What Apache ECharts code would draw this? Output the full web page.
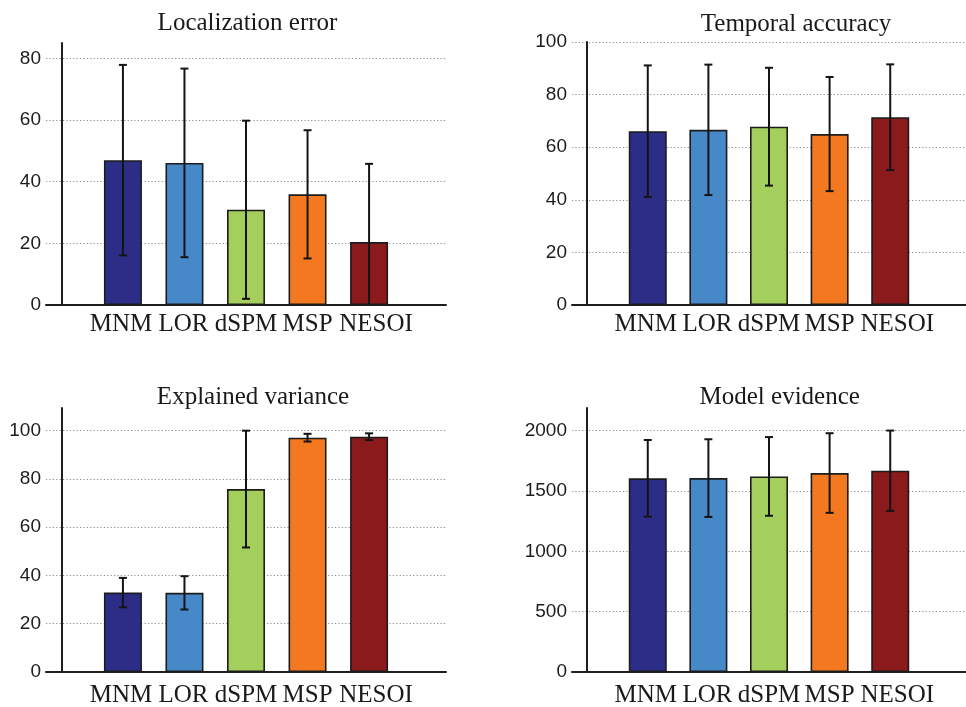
<!DOCTYPE html>
<html>
<head>
<meta charset="utf-8">
<script src="https://cdn.jsdelivr.net/npm/echarts@6/dist/echarts.min.js"></script>
<style>
  html, body { margin: 0; padding: 0; background: #ffffff; }
  #chart { width: 966px; height: 707px; }
</style>
</head>
<body>
<div id="chart"></div>
<script>
// Source-localisation methods compared in every panel
const methods = ['MNM', 'LOR', 'dSPM', 'MSP', 'NESOI'];
const methodColors = ['#2b2d86', '#4788c9', '#a4cf5c', '#f3781f', '#8a1a1b'];

// Group means and standard deviations per measure
const locErrMean = [47, 46.1, 30.9, 35.9, 20.4];
const locErrSd = [30.9, 30.6, 28.9, 20.8, 25.4];

const tempAccMean = [66.1, 66.6, 67.8, 65.0, 71.4];
const tempAccSd = [25.0, 24.8, 22.4, 21.7, 20.1];

const explVarMean = [32.9, 32.8, 75.8, 97.1, 97.5];
const explVarSd = [6.1, 6.9, 24.2, 1.6, 1.4];

const modelEvMean = [1605, 1607, 1621, 1649, 1668];
const modelEvSd = [318, 322, 326, 330, 333];

// Panel titles and y-axis tick ranges
const panelTitles = ['Localization error', 'Temporal accuracy', 'Explained variance', 'Model evidence'];
const yAxisMax = [85, 100, 109.4, 2188];
const yAxisStep = [20, 20, 20, 500];

const panelMeans = [locErrMean, tempAccMean, explVarMean, modelEvMean];
const panelSds = [locErrSd, tempAccSd, explVarSd, modelEvSd];

// Plot-area placement of each panel (px)
const gridBoxes = [
  { left: 46, top: 43, width: 400, height: 262 },
  { left: 572, top: 42, width: 399, height: 263 },
  { left: 46, top: 408, width: 400, height: 264 },
  { left: 572, top: 408, width: 399, height: 264 }
];
const titleAnchors = [
  { x: 247.5, y: 23.3 },
  { x: 796, y: 24.3 },
  { x: 253, y: 397.3 },
  { x: 779.7, y: 397.6 }
];
// Gap between the baseline axis and the method names, per panel
const nameGap = [7, 7, 11, 11];
// Small horizontal nudges so the names read as one evenly spaced row
const nameNudge = [-2, -1, 0, 0, 7];

const serif = "'Liberation Serif', 'Times New Roman', serif";
const sans = "'Liberation Sans', Arial, sans-serif";

const chart = echarts.init(document.getElementById('chart'), null, { renderer: 'canvas' });

const grids = [], xAxes = [], yAxes = [], series = [], graphics = [];

gridBoxes.forEach((box, i) => {
  grids.push(Object.assign({ containLabel: false }, box));

  xAxes.push({
    type: 'value',
    gridIndex: i,
    min: -0.25,
    max: 6.25,
    splitLine: { show: false },
    axisTick: { show: false },
    axisLabel: { show: false },
    axisLine: { show: true, lineStyle: { color: '#1e1e1e', width: 2 } }
  });

  const maxIsTick = Math.abs(yAxisMax[i] / yAxisStep[i] - Math.round(yAxisMax[i] / yAxisStep[i])) < 1e-9;
  yAxes.push({
    type: 'value',
    gridIndex: i,
    min: 0,
    max: yAxisMax[i],
    interval: yAxisStep[i],
    axisLine: { show: true, lineStyle: { color: '#1e1e1e', width: 2 } },
    axisTick: { show: false },
    axisLabel: {
      fontFamily: sans,
      fontSize: 19,
      color: '#1c1c1c',
      margin: 5,
      showMaxLabel: maxIsTick,
      formatter: v => String(v)
    },
    splitLine: {
      show: true,
      showMinLine: false,
      showMaxLine: maxIsTick,
      lineStyle: { color: '#8c8c8c', width: 1, type: [1.2, 2.2] }
    }
  });

  const means = panelMeans[i], sds = panelSds[i];

  series.push({
    type: 'bar',
    xAxisIndex: i,
    yAxisIndex: i,
    barWidth: 38,
    z: 2,
    itemStyle: { borderColor: '#1c1c1c', borderWidth: 1.6 },
    label: {
      show: true,
      position: 'bottom',
      distance: nameGap[i],
      formatter: '{b}',
      fontFamily: serif,
      fontSize: 25,
      color: '#1a1a1a'
    },
    data: methods.map((m, k) => ({
      name: m,
      value: [k + 1, means[k]],
      itemStyle: { color: methodColors[k] },
      label: { offset: [nameNudge[k], 0] }
    }))
  });

  // Error bars: mean ± one standard deviation with short caps
  series.push({
    type: 'custom',
    xAxisIndex: i,
    yAxisIndex: i,
    z: 3,
    clip: true,
    data: methods.map((m, k) => [k + 1, means[k], sds[k]]),
    renderItem: (params, api) => {
      const x = api.value(0), mean = api.value(1), sd = api.value(2);
      const hi = api.coord([x, mean + sd]);
      const lo = api.coord([x, mean - sd]);
      const cap = 4;
      const style = { stroke: '#141414', lineWidth: 2 };
      return {
        type: 'group',
        children: [
          { type: 'line', shape: { x1: hi[0], y1: hi[1], x2: lo[0], y2: lo[1] }, style },
          { type: 'line', shape: { x1: hi[0] - cap, y1: hi[1], x2: hi[0] + cap, y2: hi[1] }, style },
          { type: 'line', shape: { x1: lo[0] - cap, y1: lo[1], x2: lo[0] + cap, y2: lo[1] }, style }
        ]
      };
    }
  });

  graphics.push({
    type: 'text',
    x: titleAnchors[i].x,
    y: titleAnchors[i].y,
    style: {
      text: panelTitles[i],
      font: '25px ' + serif,
      fill: '#1a1a1a',
      align: 'center',
      verticalAlign: 'middle',
      textAlign: 'center',
      textVerticalAlign: 'middle'
    }
  });
});

chart.setOption({
  backgroundColor: '#ffffff',
  animation: false,
  grid: grids,
  xAxis: xAxes,
  yAxis: yAxes,
  series: series,
  graphic: graphics
});
</script>
</body>
</html>
